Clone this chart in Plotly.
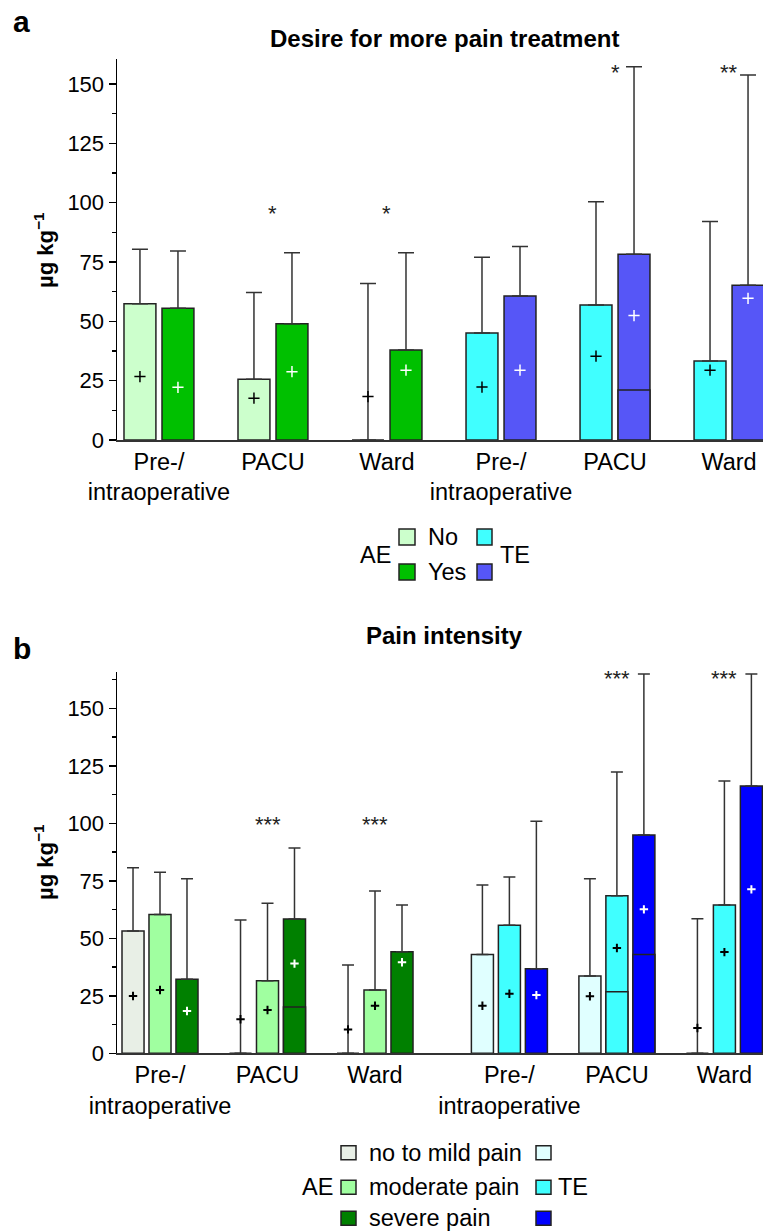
import plotly.graph_objects as go

W, H = 763, 1231
FONT = "Liberation Sans, Arial, sans-serif"

# ---------------- data ----------------
group_labels = ["Pre-/<br>intraoperative", "PACU", "Ward",
                "Pre-/<br>intraoperative", "PACU", "Ward"]

# Panel a: Desire for more pain treatment (bar top, whisker top, mean "+", median line)
a_ae_no_bar = [57.4, 25.6, 0.0]
a_ae_no_whisker = [80.4, 62.1, 65.9]
a_ae_no_mean = [26.7, 17.6, 18.3]

a_ae_yes_bar = [55.5, 49.0, 37.9]
a_ae_yes_whisker = [79.6, 78.9, 78.9]
a_ae_yes_mean = [22.2, 28.8, 29.4]

a_te_no_bar = [45.1, 56.9, 33.3]
a_te_no_whisker = [77.0, 100.4, 92.0]
a_te_no_mean = [22.3, 35.3, 29.4]

a_te_yes_bar = [60.7, 78.2, 65.2]
a_te_yes_whisker = [81.5, 157.2, 153.8]
a_te_yes_mean = [29.4, 52.4, 59.7]
a_te_yes_median = [None, 21.1, None]

a_stars = ["", "*", "*", "", "*", "**"]
a_star_level = [None, 97.3, 97.3, None, 156.7, 156.7]

# Panel b: Pain intensity
b_ae_mild_bar = [53.2, 0.0, 0.0]
b_ae_mild_whisker = [80.7, 58.0, 38.4]
b_ae_mild_mean = [24.9, 14.8, 10.4]

b_ae_mod_bar = [60.4, 31.6, 27.5]
b_ae_mod_whisker = [78.7, 65.2, 70.6]
b_ae_mod_mean = [27.5, 18.8, 20.7]

b_ae_sev_bar = [32.2, 58.4, 44.2]
b_ae_sev_whisker = [75.9, 89.3, 64.5]
b_ae_sev_mean = [18.4, 39.0, 39.6]
b_ae_sev_median = [None, 20.1, None]

b_te_mild_bar = [43.0, 33.6, 0.0]
b_te_mild_whisker = [73.2, 75.9, 58.5]
b_te_mild_mean = [20.7, 24.8, 11.0]

b_te_mod_bar = [55.7, 68.5, 64.5]
b_te_mod_whisker = [76.7, 122.3, 118.4]
b_te_mod_mean = [25.9, 45.8, 44.0]
b_te_mod_median = [None, 26.8, None]

b_te_sev_bar = [36.8, 94.9, 116.2]
b_te_sev_whisker = [100.9, 164.9, 164.9]
b_te_sev_mean = [25.3, 62.6, 71.3]
b_te_sev_median = [None, 43.0, None]

b_stars = ["", "***", "***", "", "***", "***"]
b_star_level = [None, 101.1, 101.1, None, 164.9, 164.9]

# ---------------- styles ----------------
EDGE = "#222222"
WHISK = "#333333"
C_A = {"ae_no": "#ccffcc", "ae_yes": "#00c000", "te_no": "#40ffff", "te_yes": "#5656f7"}
C_B = {"ae_mild": "#e8efe6", "ae_mod": "#a0ffa0", "ae_sev": "#008000",
       "te_mild": "#e0ffff", "te_mod": "#40ffff", "te_sev": "#0000ff"}

fig = go.Figure()


def add_series(xs, bar, whisker, mean, median, color, plus_color, width,
               cap, plus_size, plus_lw, xa, ya):
    fig.add_trace(go.Bar(
        x=xs, y=bar, width=width, xaxis=xa, yaxis=ya, showlegend=False,
        marker=dict(color=color, line=dict(color=EDGE, width=1.5)),
        error_y=dict(type="data", symmetric=False,
                     array=[w - b for w, b in zip(whisker, bar)],
                     arrayminus=[0] * len(bar),
                     color=WHISK, thickness=1.5, width=cap),
        hoverinfo="skip"))
    if median is not None:
        fig.add_trace(go.Bar(
            x=xs, y=median, width=width, xaxis=xa, yaxis=ya, showlegend=False,
            marker=dict(color=color, line=dict(color=EDGE, width=1.5)),
            hoverinfo="skip"))
    fig.add_trace(go.Scatter(
        x=xs, y=mean, mode="markers", xaxis=xa, yaxis=ya, showlegend=False,
        marker=dict(symbol="cross-thin", size=plus_size,
                    line=dict(color=plus_color, width=plus_lw)),
        hoverinfo="skip"))


# panel a positions
a_groups = [0, 1, 2, 3, 4, 5]
a_off = 0.1667
a_w = 0.28
ae_a = a_groups[:3]
te_a = a_groups[3:]
add_series([g - a_off for g in ae_a], a_ae_no_bar, a_ae_no_whisker, a_ae_no_mean, None,
           C_A["ae_no"], "black", a_w, 8, 8, 1.5, "x", "y")
add_series([g + a_off for g in ae_a], a_ae_yes_bar, a_ae_yes_whisker, a_ae_yes_mean, None,
           C_A["ae_yes"], "white", a_w, 8, 8, 1.5, "x", "y")
add_series([g - a_off for g in te_a], a_te_no_bar, a_te_no_whisker, a_te_no_mean, None,
           C_A["te_no"], "black", a_w, 8, 8, 1.5, "x", "y")
add_series([g + a_off for g in te_a], a_te_yes_bar, a_te_yes_whisker, a_te_yes_mean,
           a_te_yes_median, C_A["te_yes"], "white", a_w, 8, 8, 1.5, "x", "y")

# panel b positions (extra gap between AE and TE groups)
b_groups = [0, 1, 2, 3.25, 4.25, 5.25]
b_off = 0.251
b_w = 0.205
ae_b = b_groups[:3]
te_b = b_groups[3:]
add_series([g - b_off for g in ae_b], b_ae_mild_bar, b_ae_mild_whisker, b_ae_mild_mean, None,
           C_B["ae_mild"], "black", b_w, 6, 6, 2, "x2", "y2")
add_series(ae_b, b_ae_mod_bar, b_ae_mod_whisker, b_ae_mod_mean, None,
           C_B["ae_mod"], "black", b_w, 6, 6, 2, "x2", "y2")
add_series([g + b_off for g in ae_b], b_ae_sev_bar, b_ae_sev_whisker, b_ae_sev_mean,
           b_ae_sev_median, C_B["ae_sev"], "white", b_w, 6, 6, 2, "x2", "y2")
add_series([g - b_off for g in te_b], b_te_mild_bar, b_te_mild_whisker, b_te_mild_mean, None,
           C_B["te_mild"], "black", b_w, 6, 6, 2, "x2", "y2")
add_series(te_b, b_te_mod_bar, b_te_mod_whisker, b_te_mod_mean, b_te_mod_median,
           C_B["te_mod"], "black", b_w, 6, 6, 2, "x2", "y2")
add_series([g + b_off for g in te_b], b_te_sev_bar, b_te_sev_whisker, b_te_sev_mean,
           b_te_sev_median, C_B["te_sev"], "white", b_w, 6, 6, 2, "x2", "y2")


def px(x):
    return x / W


def py(y):
    return 1 - y / H


annotations = []
shapes = []
TXT = 23.5


def text(x, y, s, size=TXT, bold=False, xanchor="center", angle=0):
    annotations.append(dict(
        x=px(x), y=py(y), xref="paper", yref="paper", text=f"<b>{s}</b>" if bold else s,
        showarrow=False, xanchor=xanchor, yanchor="middle", textangle=angle,
        font=dict(family=FONT, size=size, color="black")))


def square(x0, x1, y0, y1, color):
    shapes.append(dict(type="rect", xref="paper", yref="paper",
                       x0=px(x0), x1=px(x1), y0=py(y1), y1=py(y0),
                       fillcolor=color, line=dict(color=EDGE, width=1.5)))


# stars
for g, s, lv in zip(a_groups, a_stars, a_star_level):
    if s:
        annotations.append(dict(x=g, y=lv, xref="x", yref="y", text=s, showarrow=False,
                                xanchor="center", yanchor="middle", yshift=-4,
                                font=dict(family=FONT, size=22, color="#222")))
for g, s, lv in zip(b_groups, b_stars, b_star_level):
    if s:
        annotations.append(dict(x=g, y=lv, xref="x2", yref="y2", text=s, showarrow=False,
                                xanchor="center", yanchor="middle", yshift=-4,
                                font=dict(family=FONT, size=22, color="#222")))

# panel labels, titles, axis titles
text(21, 21, "a", size=30, bold=True)
text(22, 648, "b", size=30, bold=True)
text(445, 39, "Desire for more pain treatment", size=24, bold=True)
text(445, 635, "Pain intensity", size=24, bold=True)
text(44, 250, "µg kg<sup>−1</sup>", size=22, bold=True, angle=-90)
text(44, 862, "µg kg<sup>−1</sup>", size=22, bold=True, angle=-90)

# legend a
text(375.5, 555, "AE")
square(399, 415, 529, 545, C_A["ae_no"])
square(399, 415, 564, 580, C_A["ae_yes"])
square(477, 492, 529, 545, C_A["te_no"])
square(477, 492, 564, 580, C_A["te_yes"])
text(426, 537, "No", xanchor="left")
text(426, 572, "Yes", xanchor="left")
text(498, 555, "TE", xanchor="left")

# legend b
rows = [1152.7, 1187.3, 1218.3]
names = ["no to mild pain", "moderate pain", "severe pain"]
ae_cols = [C_B["ae_mild"], C_B["ae_mod"], C_B["ae_sev"]]
te_cols = [C_B["te_mild"], C_B["te_mod"], C_B["te_sev"]]
for r, n, ca, ct in zip(rows, names, ae_cols, te_cols):
    square(341, 356, r - 7, r + 7, ca)
    square(536, 551, r - 7, r + 7, ct)
    text(367, r, n, xanchor="left")
text(317, rows[1], "AE")
text(556, rows[1], "TE", xanchor="left")

axis_common = dict(showline=True, linewidth=1.5, showgrid=False, automargin=False,
                   zeroline=False, fixedrange=True)
xaxis_common = dict(tickmode="array", ticktext=group_labels, ticks="", linecolor="#333",
                    tickfont=dict(family=FONT, size=TXT, color="black"))
yaxis_common = dict(tickmode="linear", tick0=0, dtick=25, ticks="outside", ticklen=7,
                    tickwidth=1.5, tickcolor="black", linecolor="black",
                    tickfont=dict(family=FONT, size=22, color="black"),
                    minor=dict(tickmode="linear", tick0=0, dtick=12.5, ticks="outside",
                               ticklen=4, tickwidth=1.5, tickcolor="black"))

fig.update_layout(
    width=W, height=H, margin=dict(l=0, r=0, t=0, b=0, autoexpand=False),
    paper_bgcolor="white", plot_bgcolor="white", barmode="overlay",
    showlegend=False, annotations=annotations, shapes=shapes,
    font=dict(family=FONT, color="black"),
    xaxis=dict(domain=[117 / W, 1], range=[-0.368, 5.298], anchor="y",
               tickvals=a_groups, **xaxis_common, **axis_common),
    yaxis=dict(domain=[py(440), py(59)], range=[0, 160.5], anchor="x",
               **yaxis_common, **axis_common),
    xaxis2=dict(domain=[117 / W, 1], range=[-0.4, 5.609], anchor="y2",
                tickvals=b_groups, **xaxis_common, **axis_common),
    yaxis2=dict(domain=[py(1053.3), py(672)], range=[0, 165.8], anchor="x2",
                **yaxis_common, **axis_common),
)

fig.write_html(
    "out.html",
    config={"displayModeBar": False, "staticPlot": True},
    post_script="document.body.style.margin='0';document.body.style.padding='0';"
                "document.documentElement.style.overflow='hidden';",
)
